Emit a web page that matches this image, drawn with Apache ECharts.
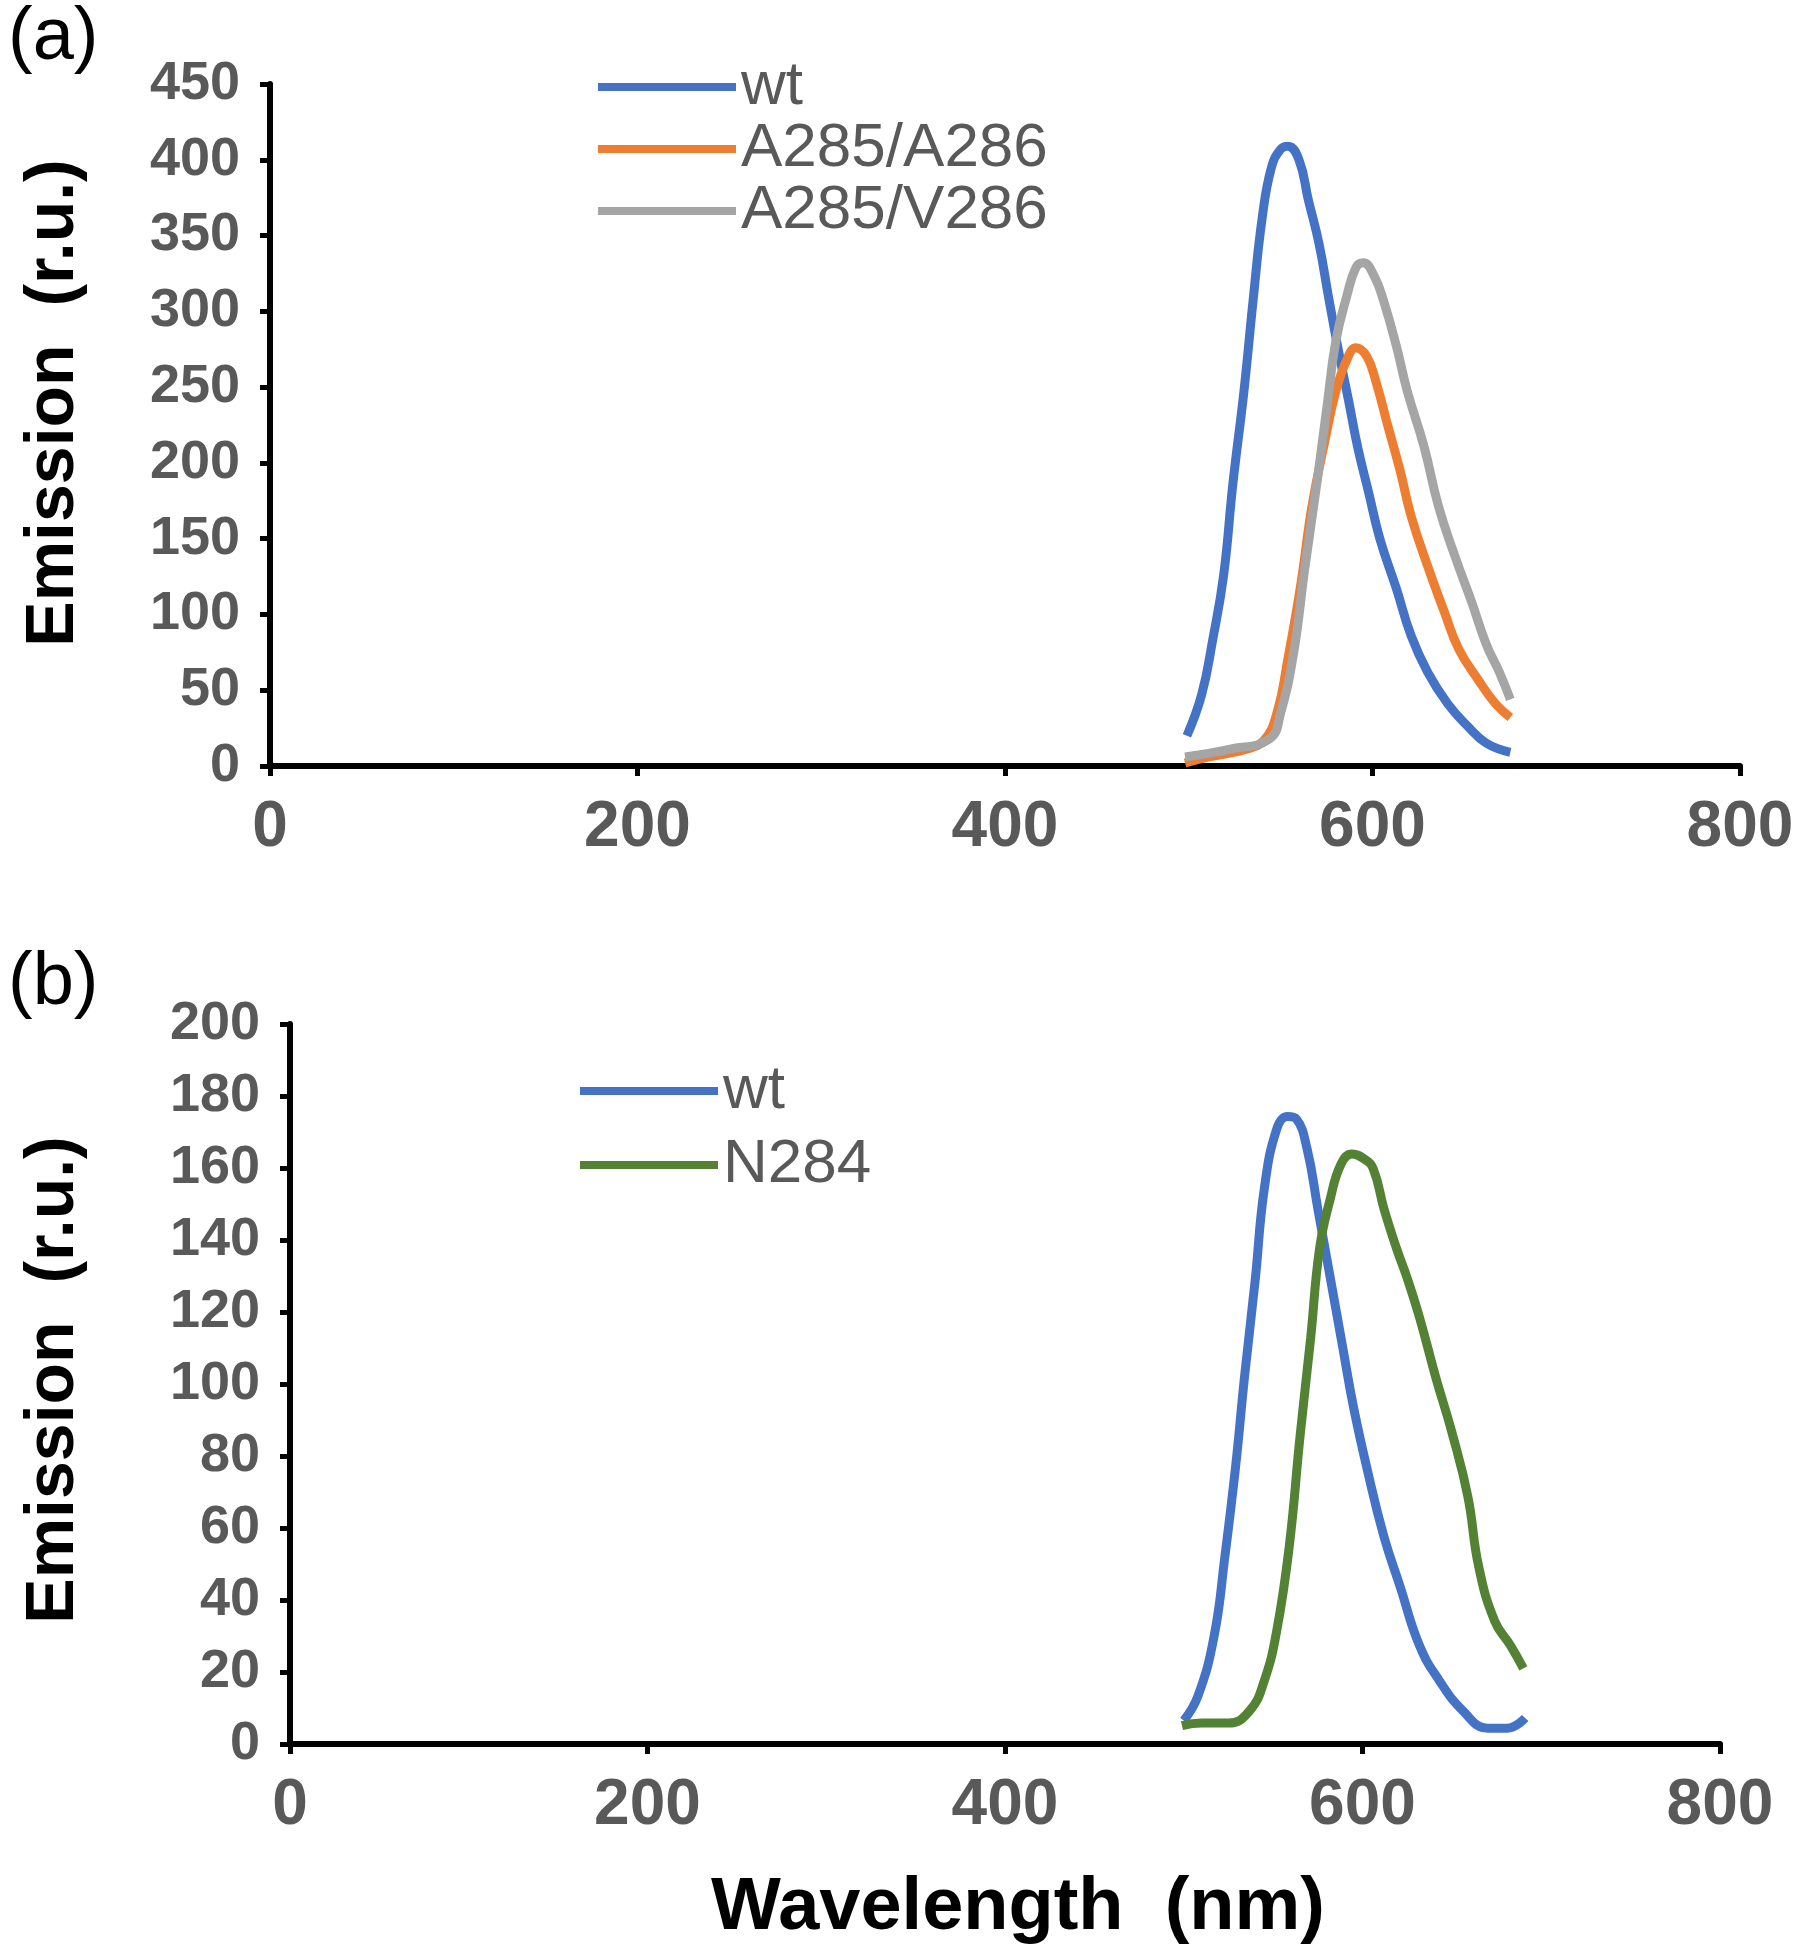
<!DOCTYPE html>
<html>
<head>
<meta charset="utf-8">
<script src="https://cdn.jsdelivr.net/npm/echarts@6/dist/echarts.min.js"></script>
<style>html,body{margin:0;padding:0;background:#fff}#c{width:1800px;height:1958px}</style>
</head>
<body>
<div id="c"></div>
<script>
// Panel (a)
const aWtX = [499,507,513,519,524,530,535,540,545,550,554,560,565,571,576,581,587,592,598,604,613,621,630,641,652,662,675];
const aWtY = [20,47,83,126,186,247,307,362,395,407,409,400,374,344,310,277,241,210,180,150,117,86,62,41,26,15,9];
const aAAX = [498,511,531,541,548,554,561,567,574,580,586,591,597,602,608,615,621,630,639,647,658,667,675];
const aAAY = [2,6,11,17,35,71,120,171,214,247,268,276,270,253,226,195,165,132,102,77,56,41,32];
const aAVX = [498,522,544,550,557,563,570,575,580,586,591,595,601,606,613,619,628,636,645,654,662,669,675];
const aAVY = [6,11,18,35,74,129,189,235,280,310,329,332,323,307,277,247,211,171,138,108,80,62,44];
// Panel (b)
const bWtX = [500,508,517,523,529,534,540,545,552,558,563,569,575,582,589,595,603,612,621,632,643,656,670,681,691];
const bWtY = [6.5,13.4,30,52,77,102,129,154,170.8,174.3,173.6,165.3,148.7,129.4,110,93.5,75.5,57.6,43.8,27.2,17.6,9.3,4.4,4.4,7.2];
const bNX = [499,510,525,537,545,552,559,565,571,576,582,588,594,601,606,612,619,625,632,641,650,659,665,674,683,690];
const bNY = [5.1,5.8,5.8,9.3,17.5,31.4,54.8,85.2,112.8,137.7,151.5,161.1,163.9,162.5,159.8,148.7,137.7,129.4,118.3,101.8,86.6,68.6,49.3,34.1,27.2,21];

const aNames = ['wt','A285/A286','A285/V286'];
const bNames = ['wt','N284'];
const yTitle = 'Emission  (r.u.)';
const xTitle = 'Wavelength  (nm)';

const pair = (xs, ys) => xs.map((x, i) => [x, ys[i]]);

const tickGray = '#595959';
const lblFont = {color: tickGray, fontFamily: 'Liberation Sans Narrow, Liberation Sans, Arial', fontWeight: 'bold'};

function xAxis(gi) {
  return {
    type: 'value', gridIndex: gi, min: 0, max: 800, interval: 200,
    axisLine: {show: true, onZero: false, lineStyle: {color: '#000', width: 6}},
    axisTick: {show: true, length: 10, lineStyle: {color: '#000', width: 5}},
    axisLabel: Object.assign({fontSize: 64, margin: 30}, lblFont),
    splitLine: {show: false}
  };
}
function yAxis(gi, max, interval) {
  return {
    type: 'value', gridIndex: gi, min: 0, max: max, interval: interval,
    axisLine: {show: true, lineStyle: {color: '#000', width: 6}},
    axisTick: {show: true, length: 10, lineStyle: {color: '#000', width: 5}},
    axisLabel: Object.assign({fontSize: 54, margin: 30}, lblFont),
    splitLine: {show: false}
  };
}
function line(name, gi, data, color) {
  return {
    name: name, type: 'line', xAxisIndex: gi, yAxisIndex: gi,
    data: data, showSymbol: false, smooth: 0.45,
    lineStyle: {color: color, width: 9}, itemStyle: {color: color}
  };
}
const legendText = {fontSize: 62, lineHeight: 62, color: tickGray, fontFamily: 'Liberation Sans Narrow, Liberation Sans, Arial'};
const titleStyle = {fontSize: 68, fontWeight: 'bold', fill: '#000', fontFamily: 'Liberation Sans, Arial', align: 'center', verticalAlign: 'middle'};

const chart = echarts.init(document.getElementById('c'));
chart.setOption({
  backgroundColor: '#fff',
  animation: false,
  grid: [
    {left: 270, right: 60, top: 84, height: 682},
    {left: 290, right: 80, top: 1024, height: 720}
  ],
  xAxis: [xAxis(0), xAxis(1)],
  yAxis: [yAxis(0, 450, 50), yAxis(1, 200, 20)],
  legend: [
    {data: aNames, orient: 'vertical', left: 593, top: 51, icon: 'rect', itemWidth: 138, itemHeight: 8, itemGap: 0, textStyle: legendText},
    {data: bNames, orient: 'vertical', left: 575, top: 1055, icon: 'rect', itemWidth: 138, itemHeight: 8, itemGap: 12, textStyle: legendText}
  ],
  graphic: [
    {type: 'text', left: 8, top: 2, style: {text: '(a)', fontSize: 74, fill: '#000', fontFamily: 'Liberation Sans, Arial'}},
    {type: 'text', left: 8, top: 947, style: {text: '(b)', fontSize: 74, fill: '#000', fontFamily: 'Liberation Sans, Arial'}},
    {type: 'text', x: 54, y: 403, rotation: Math.PI / 2, style: Object.assign({text: yTitle}, titleStyle)},
    {type: 'text', x: 54, y: 1380, rotation: Math.PI / 2, style: Object.assign({text: yTitle}, titleStyle)},
    {type: 'text', x: 1018, y: 1909, style: Object.assign({text: xTitle}, titleStyle, {fontSize: 74})}
  ],
  series: [
    line('wt', 0, pair(aWtX, aWtY), '#4472C4'),
    line('A285/A286', 0, pair(aAAX, aAAY), '#ED7D31'),
    line('A285/V286', 0, pair(aAVX, aAVY), '#A5A5A5'),
    line('wt', 1, pair(bWtX, bWtY), '#4472C4'),
    line('N284', 1, pair(bNX, bNY), '#548235')
  ]
});
</script>
</body>
</html>
